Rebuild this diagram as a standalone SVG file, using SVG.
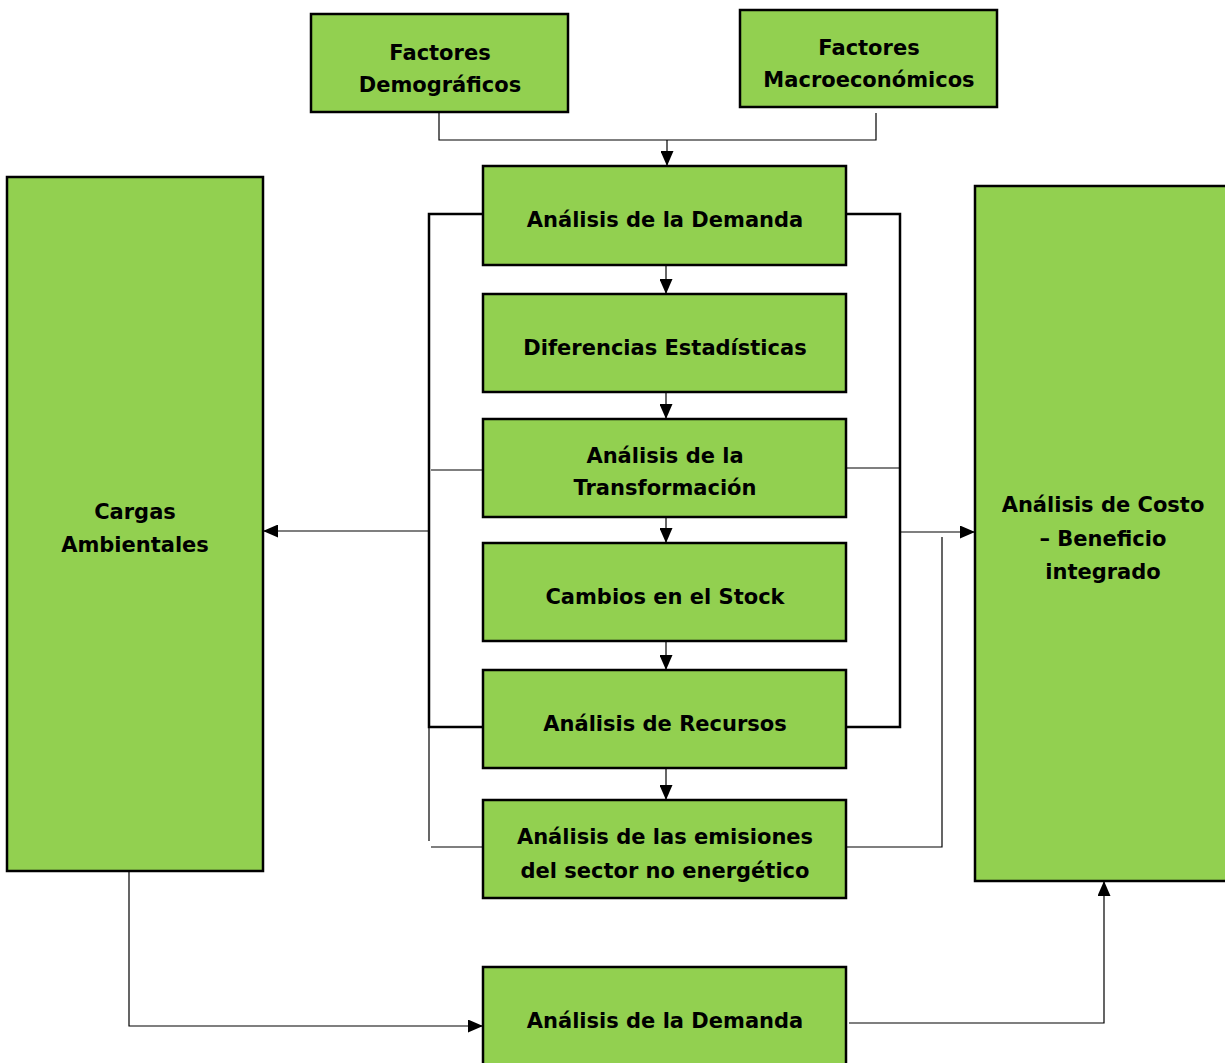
<svg xmlns="http://www.w3.org/2000/svg" width="1225" height="1063" viewBox="0 0 1225 1063">
<style>
.box{fill:#92d050;stroke:#000;stroke-width:2.5}
.t{font-family:"DejaVu Sans",Verdana,sans-serif;font-weight:bold;font-size:21px;fill:#000;text-anchor:middle}
.thin{fill:none;stroke:#000;stroke-width:1.2}
.thick{fill:none;stroke:#000;stroke-width:2.5}
</style>
<defs>
<marker id="ah" viewBox="0 0 15 13" refX="15" refY="6.5" markerWidth="15" markerHeight="13" markerUnits="userSpaceOnUse" orient="auto">
<path d="M0,0 L15,6.5 L0,13 Z" fill="#000"/>
</marker>
</defs>
<rect width="1225" height="1063" fill="#fff"/>
<g id="connectors">
<path class="thin" d="M439,110 V140 H876 V113"/>
<path class="thin" d="M667,140 V166" marker-end="url(#ah)"/>
<path class="thin" d="M666,265 V294" marker-end="url(#ah)"/>
<path class="thin" d="M666,392 V419" marker-end="url(#ah)"/>
<path class="thin" d="M666,517 V543" marker-end="url(#ah)"/>
<path class="thin" d="M666,641 V670" marker-end="url(#ah)"/>
<path class="thin" d="M666,768 V800" marker-end="url(#ah)"/>
<path class="thick" d="M483,214 H429 V727 H483"/>
<path class="thick" d="M846,214 H900 V727 H846"/>
<path class="thin" d="M431,470 H487"/>
<path class="thin" d="M843,468 H900"/>
<path class="thin" d="M429,531 H263" marker-end="url(#ah)"/>
<path class="thin" d="M901,532 H975" marker-end="url(#ah)"/>
<path class="thin" d="M429,728 V841"/>
<path class="thin" d="M431,847 H483"/>
<path class="thin" d="M942,537 V847 H846"/>
<path class="thin" d="M129,871 V1026 H483" marker-end="url(#ah)"/>
<path class="thin" d="M849,1023 H1104 V881" marker-end="url(#ah)"/>
</g>
<g id="n-demograficos">
<rect class="box" x="311" y="14" width="257" height="98"/>
<text class="t" x="440" y="60">Factores</text>
<text class="t" x="440" y="92">Demográficos</text>
</g>
<g id="n-macro">
<rect class="box" x="740" y="10" width="257" height="97"/>
<text class="t" x="869" y="55">Factores</text>
<text class="t" x="869" y="87">Macroeconómicos</text>
</g>
<g id="n-demanda">
<rect class="box" x="483" y="166" width="363" height="99"/>
<text class="t" x="665" y="227">Análisis de la Demanda</text>
</g>
<g id="n-diferencias">
<rect class="box" x="483" y="294" width="363" height="98"/>
<text class="t" x="665" y="355">Diferencias Estadísticas</text>
</g>
<g id="n-transformacion">
<rect class="box" x="483" y="419" width="363" height="98"/>
<text class="t" x="665" y="463">Análisis de la</text>
<text class="t" x="665" y="495">Transformación</text>
</g>
<g id="n-stock">
<rect class="box" x="483" y="543" width="363" height="98"/>
<text class="t" x="665" y="604">Cambios en el Stock</text>
</g>
<g id="n-recursos">
<rect class="box" x="483" y="670" width="363" height="98"/>
<text class="t" x="665" y="731">Análisis de Recursos</text>
</g>
<g id="n-emisiones">
<rect class="box" x="483" y="800" width="363" height="98"/>
<text class="t" x="665" y="844">Análisis de las emisiones</text>
<text class="t" x="665" y="878">del sector no energético</text>
</g>
<g id="n-demanda2">
<rect class="box" x="483" y="967" width="363" height="100"/>
<text class="t" x="665" y="1028">Análisis de la Demanda</text>
</g>
<g id="n-cargas">
<rect class="box" x="7" y="177" width="256" height="694"/>
<text class="t" x="135" y="519">Cargas</text>
<text class="t" x="135" y="552">Ambientales</text>
</g>
<g id="n-costo">
<rect class="box" x="975" y="186" width="254" height="695"/>
<text class="t" x="1103" y="512">Análisis de Costo</text>
<text class="t" x="1103" y="546">– Beneficio</text>
<text class="t" x="1103" y="579">integrado</text>
</g>
</svg>
